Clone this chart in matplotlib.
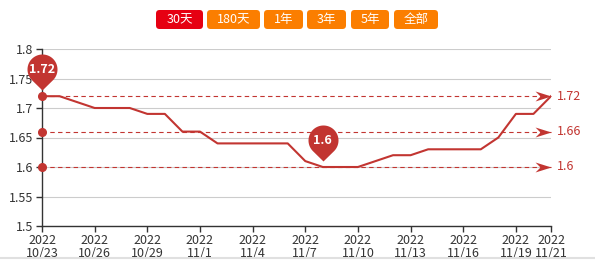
import matplotlib
matplotlib.use("Agg")
import matplotlib.pyplot as plt
import numpy as np
from matplotlib.path import Path
from matplotlib.patches import FancyBboxPatch
from matplotlib.lines import Line2D

plt.rcParams['font.family'] = ['Noto Sans CJK SC', 'DejaVu Sans']

dates = ["10/23", "10/24", "10/25", "10/26", "10/27", "10/28", "10/29", "10/30", "10/31",
         "11/1", "11/2", "11/3", "11/4", "11/5", "11/6", "11/7", "11/8", "11/9", "11/10",
         "11/11", "11/12", "11/13", "11/14", "11/15", "11/16", "11/17", "11/18", "11/19",
         "11/20", "11/21"]
year = "2022"
values = [1.72, 1.72, 1.71, 1.70, 1.70, 1.70, 1.69, 1.69, 1.66, 1.66,
          1.64, 1.64, 1.64, 1.64, 1.64, 1.61, 1.60, 1.60, 1.60, 1.61,
          1.62, 1.62, 1.63, 1.63, 1.63, 1.63, 1.65, 1.69, 1.69, 1.72]
tick_dates = ["10/23", "10/26", "10/29", "11/1", "11/4", "11/7", "11/10", "11/13",
              "11/16", "11/19", "11/21"]
y_ticks = [1.5, 1.55, 1.6, 1.65, 1.7, 1.75, 1.8]
buttons = ["30天", "180天", "1年", "3年", "5年", "全部"]

RED = "#c23531"
W, H = 595, 261
fig = plt.figure(figsize=(W / 100, H / 100), dpi=100)
ax = fig.add_axes([42 / W, 35 / H, (551 - 42) / W, 177 / H])

x = np.arange(len(dates))
ax.plot(x, values, color=RED, lw=1.5, zorder=4, solid_joinstyle='round')

ax.set_xlim(0, len(dates) - 1)
ax.set_ylim(y_ticks[0], y_ticks[-1])
ax.set_yticks(y_ticks)
ax.set_yticklabels([f"{v:g}" for v in y_ticks])
ax.set_xticks([dates.index(d) for d in tick_dates])
ax.set_xticklabels([f"{year}\n{d}" for d in tick_dates], linespacing=0.95)
ax.tick_params(axis='both', colors="#333333", labelcolor="#333333", labelsize=9,
               length=4, width=1)
ax.tick_params(axis='x', pad=2)
ax.tick_params(axis='y', pad=2)
for s in ['top', 'right']:
    ax.spines[s].set_visible(False)
for s in ['left', 'bottom']:
    ax.spines[s].set_color("#333333")
    ax.spines[s].set_linewidth(1)
ax.grid(axis='y', color="#cccccc", lw=0.8)
ax.set_axisbelow(True)

# mark lines: max, mean, min
vmax = max(values)
vmin = min(values)
vmean = round(sum(values) / len(values), 2)

arrow = Path([(0, 0), (-16, 5), (-11, 0), (-16, -5), (0, 0)],
             [Path.MOVETO, Path.LINETO, Path.LINETO, Path.LINETO, Path.CLOSEPOLY])
for v in [vmax, vmean, vmin]:
    ax.plot([x[0], x[-1]], [v, v], color=RED, lw=0.8, ls=(0, (4, 3)), zorder=3,
            clip_on=False)
    ax.plot([x[0]], [v], 'o', color=RED, ms=5.5, zorder=5, clip_on=False)
    ax.plot([x[-1]], [v], marker=arrow, color=RED, ms=23, mew=0, zorder=5,
            clip_on=False)
    ax.annotate(f"{v:g}", (x[-1], v), xytext=(6, 0), textcoords='offset pixels',
                va='center', ha='left', color=RED, fontsize=9,
                annotation_clip=False)

# pin markers
r, h, t = 15.0, 27.0, 6.0
d = h - t
a = np.arccos(r / d)
angs = np.linspace(-np.pi / 2 + a, 3 * np.pi / 2 - a, 60)
verts = [(0, t)] + [(r * np.cos(q), h + r * np.sin(q)) for q in angs] + [(0, t)]
pin = Path(verts)
ext = h + r
for idx in [values.index(vmax), values.index(vmin)]:
    ax.plot([x[idx]], [values[idx]], marker=pin, color=RED, ms=2 * ext * 0.72,
            mew=0, zorder=6, clip_on=False)
    ax.annotate(f"{values[idx]:g}", (x[idx], values[idx]), xytext=(0, h),
                textcoords='offset pixels', ha='center', va='center',
                color='white', fontsize=9, fontweight='bold', zorder=7,
                annotation_clip=False)

# buttons
btn_pos = [(156, 203), (207, 260), (264, 303), (307, 346), (351, 389), (394, 438)]
for i, (lab, (x0, x1)) in enumerate(zip(buttons, btn_pos)):
    col = "#e60012" if i == 0 else "#fb7e00"
    p = FancyBboxPatch((x0 / W, 1 - 29 / H), (x1 - x0) / W, 19 / H,
                       boxstyle="round,pad=0,rounding_size=0.006",
                       transform=fig.transFigure, facecolor=col, edgecolor='none',
                       mutation_aspect=W / H)
    fig.patches.append(p)
    fig.text((x0 + x1) / 2 / W, 1 - 19.5 / H, lab, color='white', fontsize=9,
             ha='center', va='center')

fig.lines.append(Line2D([0, 1], [1 - 258 / H, 1 - 258 / H], transform=fig.transFigure,
                        color="#e0e0e0", lw=1.5))

fig.savefig("out.png", dpi=100)
